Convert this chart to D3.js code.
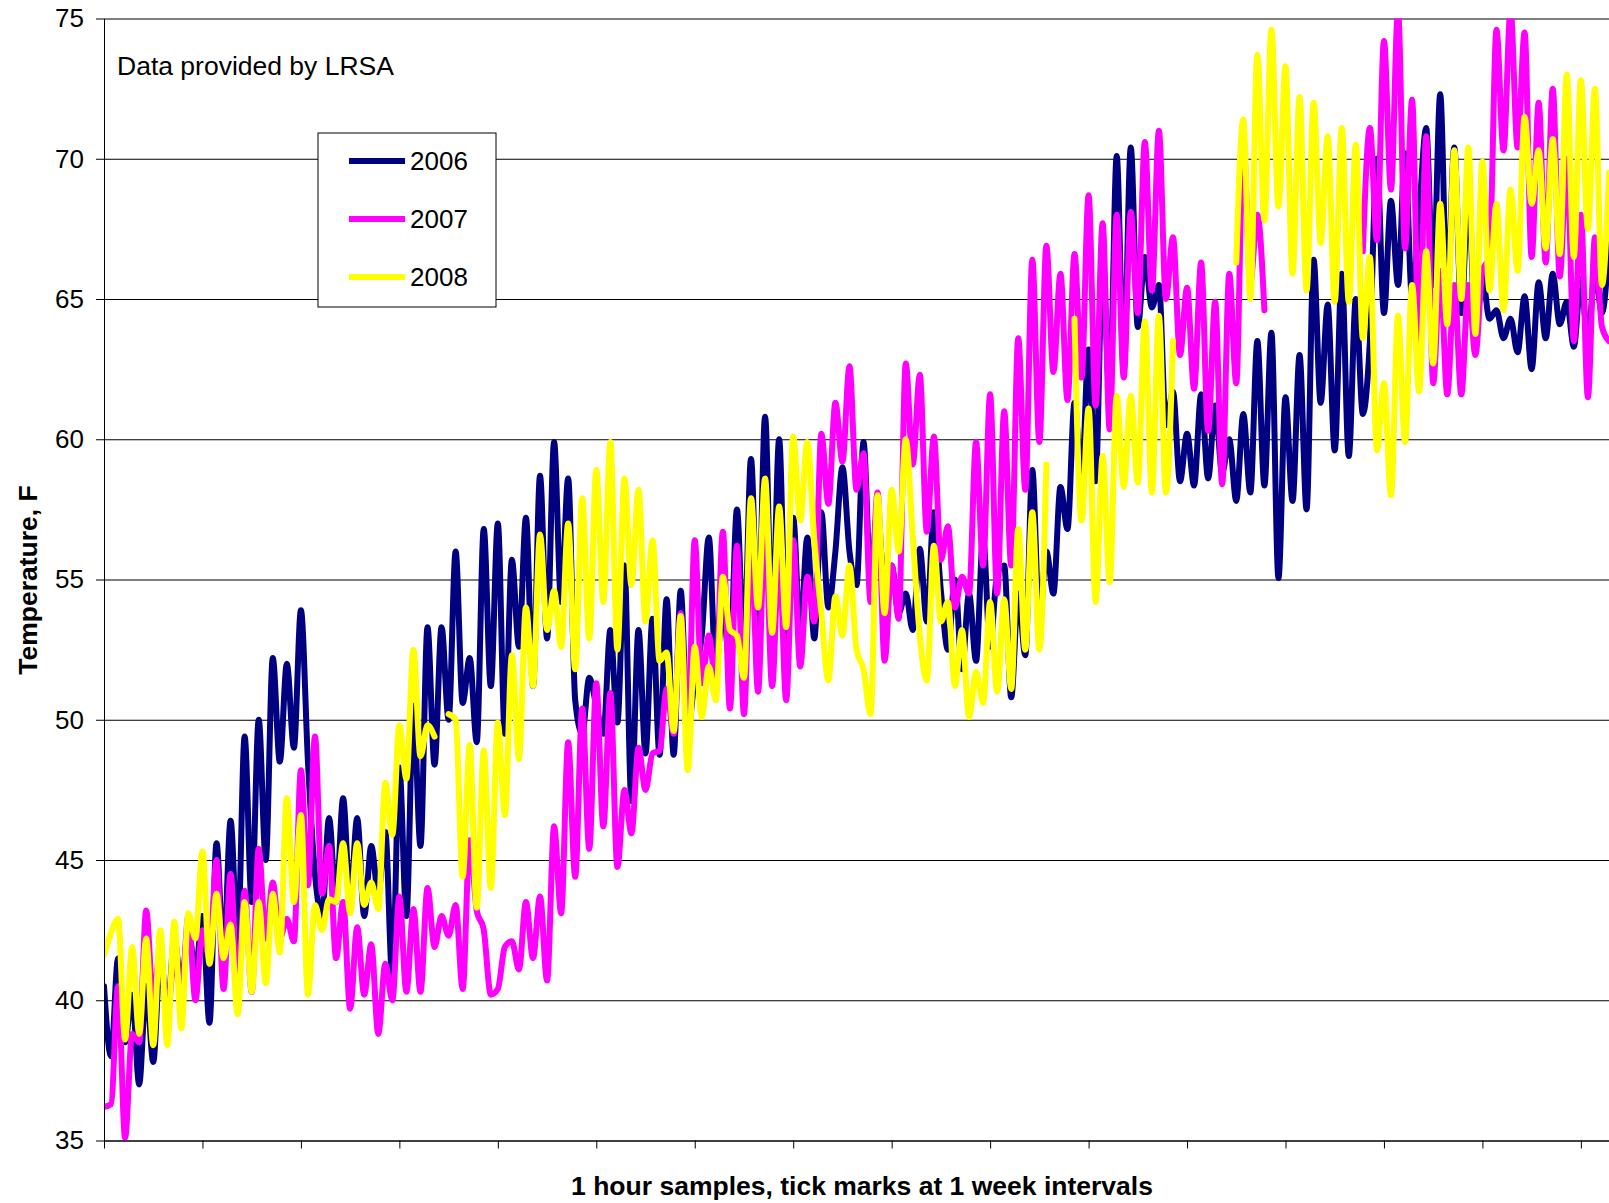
<!DOCTYPE html>
<html>
<head>
<meta charset="utf-8">
<script src="https://cdn.jsdelivr.net/npm/d3@7"></script>
<style>
body { margin: 0; background: #fff; }
text { font-family: Arial, "Liberation Sans", sans-serif; fill: #000; }
</style>
</head>
<body>
<div id="chart"></div>
<script>
var width = 1609,
    height = 1203,
    plotLeft = 104,
    plotRight = 1609,
    plotTop = 18.5,
    plotBottom = 1140.5;

// one reading every 12 hours, null = no data
var stepHours = 12;
var weekHours = 168;
var spanHours = 2568;

var years = ["2006", "2007", "2008"];
var colors = ["#000080", "#ff00ff", "#ffff00"];
var yTicks = [35, 40, 45, 50, 55, 60, 65, 70, 75];

var temp2006 = [
    40.5, 38, 41.5, 38.5, 40.2, 37, 40.5,
    37.8, 41.5, 39.5, 42.2, 40.5, 42.5, 41,
    43, 39.2, 45.6, 41.5, 46.4, 42, 49.4,
    43.5, 50, 45, 52.2, 48.5, 52, 49,
    53.9, 48.5, 44.5, 43, 46.5, 43.5, 47.2,
    43.5, 46.5, 43, 45.5, 43.8, 46, 40.8,
    48.3, 43, 50.5, 45.5, 53.3, 48.4, 53.3,
    50, 56, 50.6, 52.2, 49.2, 56.8, 51.2,
    57, 49.5, 55.7, 52.6, 57.2, 51.2, 58.7,
    52.9, 59.9, 54.2, 58.6, 50.7, 49.5, 51.5,
    50.5, 49.5, 53.2, 49.9, 55.5, 47.1, 53.2,
    48.8, 53.6, 48.75, 54.3, 48.75, 54.6, 49.6,
    51.5, 53, 56.5, 51.8, 54, 52, 57.5,
    52.5, 59.3, 53, 60.8, 53.2, 60, 52.8,
    57.2, 53, 56.5, 52.9, 57.4, 54, 56,
    59, 56, 54.8, 59.9, 55, 57.5, 54.5,
    55.5, 53.8, 54.5, 53.2, 56.1, 53.5, 57.4,
    54.6, 52.5, 55, 51.8, 54.5, 52.1, 56.5,
    52.6, 55.2, 55.5, 50.8, 54.5, 52.3, 58.9,
    53.5, 56, 54.5, 58.3, 56.8, 61.3, 58.5,
    63.2, 58.5, 66.5, 61.5, 70.1, 62.5, 70.4,
    64, 66.5, 64.7, 65.5, 60.5, 61.7, 58.5,
    60.2, 58.35, 61.6, 58.6, 61.2, 58.8, 60,
    57.8, 60.9, 58.1, 63.5, 58.35, 63.8, 55.05,
    61.5, 57.8, 63, 57.5, 66.4, 61.3, 64.8,
    59.6, 65.9, 59.4, 65, 60.9, 63.5, 70,
    64.5, 68.5, 65.5, 70.2, 65, 68, 71.1,
    65.5, 72.3, 65, 70.4, 64.5, 69, 63.8,
    65.8, 64.3, 64.6, 63.6, 64.3, 63.1, 65.1,
    62.5, 65.6, 63.6, 65.9, 64.1, 64.9, 63.3,
    65.7, 63.5, 66, 64.5, 67
];

var temp2007 = [
    36.2, 36.3, 40.5, 35.1, 38.8, 38.5, 43.2,
    40, 41.8, 39.5, 41.5, 40.2, 43, 40,
    42.5, 41.5, 45, 40.4, 44.5, 40.4, 43.9,
    40.3, 45.4, 42.2, 44.2, 42.2, 42.9, 42.1,
    48.2, 44.1, 49.4, 43.8, 45.5, 41.5, 43.5,
    39.7, 42.6, 40.2, 42, 38.8, 41.3, 40,
    43.7, 40.3, 43.25, 40.3, 44, 41.9, 43,
    42.3, 43.4, 40.4, 45.7, 43.2, 42.5, 40.2,
    40.4, 41.9, 42.1, 41.1, 43.5, 41.5, 43.7,
    40.7, 46.2, 43.1, 49.2, 44.4, 50.4, 45.4,
    51.3, 46.2, 50.95, 44.75, 47.5, 45.95, 49,
    47.5, 48.8, 48.9, 51.1, 49.5, 53.8, 49.5,
    56.4, 51.3, 53, 51.3, 56.7, 50.4, 56.2,
    50.2, 56.5, 51, 57, 51.2, 56, 50.7,
    56.4, 51.9, 55.1, 53.5, 60.2, 57.7, 61.3,
    59.2, 62.6, 58.2, 59.5, 54.2, 58.1, 52.1,
    55.5, 53.6, 62.7, 59.1, 62.3, 56.7, 60.1,
    55.7, 56.9, 54, 55.1, 54.5, 59.9, 55.5,
    61.6, 54.5, 61, 55.5, 63.6, 58.2, 66.4,
    59.9, 66.9, 62.4, 65.9, 61.4, 66.6, 62.2,
    68.7, 61.2, 67.7, 60.35, 68, 62.2, 68.1,
    64.5, 70.6, 65.3, 71, 65, 67.2, 63,
    65.4, 61.8, 66.3, 60.3, 64.9, 58.4, 65.9,
    62, 70.7, 65.6, 68, 64.6, null, null,
    null, null, null, null, null, null, null,
    null, null, null, null, 66.7, 71.1, 67.1,
    74.2, 68.9, 75.3, 66.8, 72.1, 63, 70.8,
    62, 66, 61.6, 65.5, 61.6, 65.5, 63,
    66, 66.5, 74.6, 70.3, 75.3, 70.4, 74.5,
    66.5, 72, 66.3, 72.5, 65.8, 70, 63.5,
    68, 61.5, 67.2, 64, 63.5
];

var temp2008 = [
    41.6, 42.4, 42.9, 38.6, 41.9, 38.8, 42.2,
    38.4, 42.5, 38.4, 42.8, 39, 43.1, 42.2,
    45.3, 41.3, 43.8, 41.5, 42.7, 39.5, 43.5,
    40.3, 43.5, 40.6, 43.8, 41.7, 47.2, 43.5,
    46.6, 40.2, 43.4, 42.5, 43.6, 43.5, 45.6,
    43.1, 45.6, 43.4, 44.2, 43.25, 47.75, 45.9,
    49.8, 47.9, 52.5, 48.7, 49.8, 49.4, null,
    50.2, 50, 44.4, 49.1, 43.3, 48.9, 44,
    49.9, 46.6, 52.3, 48.6, 54, 51.2, 56.6,
    53.2, 54.6, 52.6, 57, 51.8, 57.9, 52.9,
    58.9, 54.2, 59.9, 52.5, 58.6, 54.8, 58.2,
    53.5, 56.4, 52.1, 52.4, 49.6, 53.7, 48.2,
    52.6, 50.1, 51.9, 50.7, 55.1, 53.2, 53,
    51.5, 57.9, 54, 58.6, 53.1, 57.6, 53.3,
    60.1, 57.1, 59.9, 56.4, 53.8, 51.4, 54.4,
    53, 55.5, 52.5, 51.8, 50.2, 58, 53.8,
    58.2, 56, 60, 56.5, 53, 51.4, 56.2,
    53.5, 54.2, 51.2, 53.2, 50.1, 51.7, 50.6,
    54.2, 51, 54.3, 51.1, 56.8, 52.5, 57.4,
    52.5, 59.1, null, null, null, 64.3, 57.1,
    61.1, 54.2, 59.4, 54.9, 61.55, 58.3, 61.55,
    58.45, 64.2, 58.1, 64.4, 58.1, 63.5, null,
    null, null, null, null, null, null, null,
    66.3, 71.4, 65, 73.7, 67.8, 74.6, 68.3,
    73.3, 65.9, 72.2, 65.3, 72, 67, 70.8,
    64.9, 71.1, 64.9, 70.5, 63.6, 66.5, 59.6,
    62, 58, 64.4, 59.9, 65.5, 61.7, 66.7,
    62.7, 68.4, 64.1, 70.3, 65, 70.4, 63.75,
    69.9, 65.3, 68.4, 64.6, 68.9, 66, 71.5,
    68.4, 70.3, 66.8, 70.7, 66.6, 73, 66.5,
    72.8, 67.5, 72.5, 65.5, 69.5
];

var series = [temp2006, temp2007, temp2008];

var x = d3.scaleLinear().domain([0, spanHours]).range([plotLeft, plotRight]);
var y = d3.scaleLinear().domain([35, 75]).range([plotBottom, plotTop]);

var svg = d3.select("#chart").append("svg")
    .attr("width", width)
    .attr("height", height)
    .style("display", "block");

svg.append("rect").attr("width", width).attr("height", height).attr("fill", "#fff");

svg.append("defs").append("clipPath").attr("id", "plotClip")
    .append("rect")
    .attr("x", plotLeft).attr("y", plotTop)
    .attr("width", plotRight - plotLeft).attr("height", plotBottom - plotTop);

// horizontal gridlines
svg.append("g")
    .attr("transform", "translate(" + plotLeft + ",0)")
    .call(d3.axisLeft(y).tickValues(yTicks).tickSize(-(plotRight - plotLeft)).tickFormat(""))
    .call(function (g) { g.select(".domain").remove(); })
    .selectAll("line").attr("stroke", "#000").attr("stroke-width", 1);

// lines
var line = d3.line()
    .defined(function (d) { return d.v != null; })
    .x(function (d) { return x(d.h); })
    .y(function (d) { return y(d.v); })
    .curve(d3.curveMonotoneX);

var plot = svg.append("g").attr("clip-path", "url(#plotClip)");
series.forEach(function (values, k) {
    var pts = values.map(function (v, i) { return {h: i * stepHours, v: v}; });
    plot.append("path")
        .datum(pts)
        .attr("d", line)
        .attr("fill", "none")
        .attr("stroke", colors[k])
        .attr("stroke-width", 6)
        .attr("stroke-linejoin", "round")
        .attr("stroke-linecap", "round");
});

// y axis
svg.append("g")
    .attr("transform", "translate(" + plotLeft + ",0)")
    .call(d3.axisLeft(y).tickValues(yTicks).tickSize(8).tickSizeOuter(0).tickPadding(12))
    .call(function (g) {
        g.selectAll("text").attr("font-size", 26).attr("font-family", "Arial, 'Liberation Sans', sans-serif");
        g.selectAll("line, path").attr("stroke", "#000");
    });

// x axis, ticks every week
svg.append("g")
    .attr("transform", "translate(0," + plotBottom + ")")
    .call(d3.axisBottom(x).tickValues(d3.range(0, spanHours, weekHours)).tickSize(8).tickSizeOuter(0).tickFormat(""))
    .call(function (g) { g.selectAll("line, path").attr("stroke", "#000"); });

// titles
svg.append("text")
    .attr("x", 862)
    .attr("y", 1195)
    .attr("text-anchor", "middle")
    .attr("font-size", 26.5)
    .attr("font-weight", "bold")
    .text("1 hour samples, tick marks at 1 week intervals");

svg.append("text")
    .attr("transform", "translate(37,580) rotate(-90)")
    .attr("text-anchor", "middle")
    .attr("font-size", 26.5)
    .attr("font-weight", "bold")
    .text("Temperature, F");

svg.append("text")
    .attr("x", 117)
    .attr("y", 75)
    .attr("font-size", 26.5)
    .text("Data provided by LRSA");

// legend
var legend = svg.append("g");
legend.append("rect")
    .attr("x", 318).attr("y", 133)
    .attr("width", 178).attr("height", 174)
    .attr("fill", "#fff")
    .attr("stroke", "#000")
    .attr("stroke-width", 1);

years.forEach(function (yr, k) {
    var ly = 161 + k * 58;
    legend.append("line")
        .attr("x1", 349).attr("x2", 405)
        .attr("y1", ly).attr("y2", ly)
        .attr("stroke", colors[k])
        .attr("stroke-width", 6);
    legend.append("text")
        .attr("x", 410)
        .attr("y", ly + 9)
        .attr("font-size", 26)
        .text(yr);
});
</script>
</body>
</html>
